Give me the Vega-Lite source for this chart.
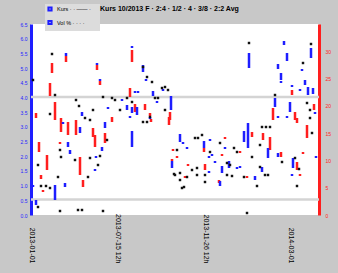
{
  "$schema": "https://vega.github.io/schema/vega-lite/v6.json",
  "autosize": "none",
  "padding": {"left": 31, "top": 24, "right": 19, "bottom": 58},
  "width": 288,
  "height": 191,
  "background": "#c8c8c8",
  "config": {
    "view": {"stroke": null, "fill": "white"},
    "font": "Liberation Sans"
  },
  "title": {"text": "Kurs 10/2013   F  ·  2:4 · 1/2 · 4 · 3/8 · 2:2   Avg", "anchor": "start", "dx": 80, "offset": -8, "fontSize": 7, "fontWeight": "bold", "color": "black"},
  "datasets": {
    "grid": [{"g": 118}, {"g": 15.5}],
    "blue": [
      {"t":35,"a":162,"b":159},{"t":66,"a":152,"b":150},{"t":69,"a":136,"b":134},{"t":51,"a":103,"b":99},
      {"t":32,"a":93,"b":91},{"t":49,"a":88,"b":82},{"t":37,"a":73,"b":68},{"t":39,"a":65,"b":61},
      {"t":65,"a":59,"b":57},{"t":64,"a":46,"b":44},{"t":34,"a":32,"b":28},{"t":24,"a":30,"b":15},
      {"t":2,"a":30,"b":28},{"t":5,"a":15,"b":10},{"t":101,"a":169,"b":167},{"t":112,"a":150,"b":143},
      {"t":115,"a":136,"b":134},{"t":122,"a":124,"b":119},{"t":132,"a":126,"b":124},{"t":104,"a":124,"b":122},
      {"t":107,"a":124,"b":122},{"t":91,"a":116,"b":114},{"t":126,"a":114,"b":112},{"t":140,"a":119,"b":105},
      {"t":77,"a":108,"b":106},{"t":96,"a":110,"b":105},{"t":101,"a":108,"b":102},{"t":106,"a":108,"b":100},
      {"t":74,"a":93,"b":87},{"t":71,"a":68,"b":64},{"t":101,"a":84,"b":68},{"t":99,"a":99,"b":97},
      {"t":119,"a":98,"b":96},{"t":141,"a":54,"b":47},{"t":149,"a":81,"b":73},{"t":152,"a":73,"b":71},
      {"t":173,"a":74,"b":67},{"t":179,"a":76,"b":74},{"t":194,"a":68,"b":66},{"t":213,"a":84,"b":73},
      {"t":156,"a":68,"b":66},{"t":178,"a":44,"b":42},{"t":178,"a":59,"b":57},{"t":181,"a":61,"b":59},
      {"t":184,"a":54,"b":52},{"t":191,"a":49,"b":42},{"t":189,"a":34,"b":29},{"t":198,"a":54,"b":47},
      {"t":206,"a":48,"b":46},{"t":209,"a":49,"b":47},{"t":218,"a":162,"b":147},{"t":253,"a":174,"b":170},
      {"t":280,"a":167,"b":157},{"t":256,"a":162,"b":154},{"t":247,"a":151,"b":146},{"t":271,"a":146,"b":144},
      {"t":250,"a":142,"b":135},{"t":250,"a":134,"b":132},{"t":274,"a":135,"b":130},{"t":261,"a":130,"b":128},
      {"t":269,"a":126,"b":124},{"t":277,"a":128,"b":120},{"t":282,"a":127,"b":121},{"t":244,"a":117,"b":108},
      {"t":259,"a":113,"b":103},{"t":256,"a":99,"b":97},{"t":284,"a":103,"b":101},{"t":247,"a":99,"b":97},
      {"t":217,"a":92,"b":67},{"t":237,"a":67,"b":57},{"t":247,"a":62,"b":58},{"t":262,"a":57,"b":47},
      {"t":261,"a":41,"b":39},{"t":231,"a":48,"b":43},{"t":224,"a":39,"b":35},{"t":285,"a":59,"b":57}
    ],
    "red": [
      {"t":21,"a":152,"b":142},{"t":35,"a":159,"b":153},{"t":66,"a":150,"b":145},{"t":69,"a":134,"b":130},
      {"t":19,"a":132,"b":119},{"t":24,"a":113,"b":95},{"t":5,"a":102,"b":97},{"t":8,"a":73,"b":63},
      {"t":16,"a":60,"b":45},{"t":10,"a":40,"b":36},{"t":12,"a":25,"b":23},{"t":30,"a":97,"b":83},
      {"t":37,"a":93,"b":80},{"t":45,"a":95,"b":80},{"t":64,"a":80,"b":68},{"t":49,"a":58,"b":40},
      {"t":52,"a":35,"b":28},{"t":29,"a":73,"b":71},{"t":101,"a":165,"b":153},{"t":99,"a":127,"b":118},
      {"t":139,"a":103,"b":95},{"t":119,"a":102,"b":99},{"t":81,"a":98,"b":93},{"t":74,"a":82,"b":72},
      {"t":120,"a":96,"b":93},{"t":138,"a":98,"b":90},{"t":142,"a":66,"b":64},{"t":141,"a":56,"b":54},
      {"t":104,"a":111,"b":103},{"t":114,"a":111,"b":105},{"t":62,"a":87,"b":78},{"t":173,"a":67,"b":63},
      {"t":194,"a":78,"b":76},{"t":209,"a":64,"b":62},{"t":146,"a":59,"b":57},{"t":154,"a":39,"b":37},
      {"t":157,"a":51,"b":49},{"t":174,"a":51,"b":45},{"t":191,"a":61,"b":59},{"t":261,"a":125,"b":120},
      {"t":283,"a":111,"b":105},{"t":242,"a":107,"b":95},{"t":264,"a":103,"b":95},{"t":232,"a":82,"b":75},
      {"t":239,"a":78,"b":65},{"t":276,"a":90,"b":77},{"t":266,"a":97,"b":92},{"t":250,"a":63,"b":58},
      {"t":266,"a":53,"b":45},{"t":269,"a":41,"b":39},{"t":216,"a":39,"b":37},{"t":272,"a":63,"b":61},
      {"t":221,"a":83,"b":78},{"t":188,"a":35,"b":32}
    ],
    "black": [
      {"t":21,"v":161},{"t":2,"v":135},{"t":24,"v":120},{"t":45,"v":115},{"t":48,"v":109},{"t":19,"v":101},
      {"t":54,"v":97},{"t":59,"v":95},{"t":30,"v":58},{"t":27,"v":38},{"t":59,"v":57},{"t":67,"v":50},
      {"t":7,"v":50},{"t":10,"v":29},{"t":15,"v":29},{"t":19,"v":27},{"t":7,"v":8},{"t":29,"v":4},
      {"t":47,"v":5},{"t":51,"v":5},{"t":72,"v":4},{"t":29,"v":65},{"t":44,"v":55},{"t":57,"v":38},
      {"t":62,"v":105},{"t":72,"v":118},{"t":81,"v":117},{"t":84,"v":115},{"t":96,"v":117},{"t":127,"v":117},
      {"t":134,"v":105},{"t":89,"v":105},{"t":112,"v":148},{"t":116,"v":138},{"t":121,"v":133},{"t":131,"v":127},
      {"t":134,"v":128},{"t":137,"v":125},{"t":76,"v":75},{"t":69,"v":59},{"t":112,"v":93},{"t":116,"v":93},
      {"t":119,"v":98},{"t":143,"v":41},{"t":124,"v":117},{"t":101,"v":113},{"t":164,"v":77},{"t":167,"v":77},
      {"t":171,"v":80},{"t":189,"v":72},{"t":203,"v":67},{"t":206,"v":63},{"t":146,"v":65},{"t":144,"v":40},
      {"t":149,"v":42},{"t":149,"v":35},{"t":161,"v":45},{"t":166,"v":47},{"t":166,"v":40},{"t":174,"v":40},
      {"t":174,"v":33},{"t":179,"v":63},{"t":196,"v":52},{"t":199,"v":50},{"t":196,"v":40},{"t":201,"v":39},
      {"t":213,"v":38},{"t":153,"v":28},{"t":156,"v":38},{"t":151,"v":27},{"t":216,"v":2},{"t":218,"v":172},
      {"t":280,"v":171},{"t":272,"v":152},{"t":244,"v":120},{"t":276,"v":112},{"t":279,"v":105},{"t":279,"v":97},
      {"t":281,"v":82},{"t":231,"v":88},{"t":235,"v":88},{"t":239,"v":88},{"t":229,"v":70},{"t":221,"v":58},
      {"t":251,"v":53},{"t":264,"v":57},{"t":268,"v":46},{"t":266,"v":29},{"t":229,"v":48},{"t":237,"v":40},
      {"t":226,"v":29},{"t":234,"v":40}
    ]
  },
  "resolve": {"scale": {"y": "independent"}, "axis": {"y": "independent"}},
  "layer": [
    {
      "data": {"name": "grid"},
      "mark": {"type": "rule", "color": "#d4d4d4", "strokeWidth": 2.5},
      "encoding": {
        "y": {"field": "g", "type": "quantitative", "scale": {"domain": [0, 191], "nice": false, "zero": false}, "axis": null}
      }
    },
    {
      "data": {"name": "red"},
      "mark": {"type": "rule", "color": "#ff1e1e", "strokeWidth": 2.5},
      "encoding": {
        "x": {"field": "t", "type": "quantitative", "scale": {"domain": [0, 288], "nice": false, "zero": false},
          "axis": {"title": null, "grid": false, "ticks": false, "domain": false,
            "values": [0, 86, 174, 259],
            "labelExpr": "datum.value == 0 ? '2013-01-01' : datum.value == 86 ? '2013-07-15 12h' : datum.value == 174 ? '2013-11-26 12h' : '2014-03-01'",
            "labelAngle": 90, "labelAlign": "right", "labelBaseline": "middle", "labelPadding": 48,
            "labelFontSize": 7, "labelColor": "black", "labelFlush": false, "labelOverlap": false}},
        "y": {"field": "a", "type": "quantitative", "scale": {"domain": [0, 191], "nice": false, "zero": false},
          "axis": {"orient": "right", "title": null, "grid": false, "ticks": false, "domainColor": "#ff1e1e", "domainWidth": 3,
            "values": [0, 27.29, 54.57, 81.86, 109.14, 136.43, 163.71],
            "labelExpr": "format(datum.value / 27.29 * 5, '.0f')",
            "labelColor": "#ff1e1e", "labelFontSize": 5, "labelPadding": 6}},
        "y2": {"field": "b"}
      }
    },
    {
      "data": {"name": "blue"},
      "mark": {"type": "rule", "strokeWidth": 2.5},
      "encoding": {
        "x": {"field": "t", "type": "quantitative", "scale": {"domain": [0, 288], "nice": false, "zero": false},
          "axis": {"title": null, "grid": false, "ticks": false, "domain": false,
            "values": [0, 86, 174, 259],
            "labelExpr": "datum.value == 0 ? '2013-01-01' : datum.value == 86 ? '2013-07-15 12h' : datum.value == 174 ? '2013-11-26 12h' : '2014-03-01'",
            "labelAngle": 90, "labelAlign": "right", "labelBaseline": "middle", "labelPadding": 48,
            "labelFontSize": 7, "labelColor": "black", "labelFlush": false, "labelOverlap": false}},
        "y": {"field": "a", "type": "quantitative", "scale": {"domain": [0, 191], "nice": false, "zero": false},
          "axis": {"orient": "left", "title": null, "grid": false, "ticks": false, "domainColor": "#1e1eff", "domainWidth": 3,
            "values": [0, 14.69, 29.38, 44.08, 58.77, 73.46, 88.15, 102.85, 117.54, 132.23, 146.92, 161.62, 176.31, 191],
            "labelExpr": "format(datum.value / 14.69 * 0.5, '.1f')",
            "labelColor": "#1e1eff", "labelFontSize": 5, "labelPadding": 4}},
        "y2": {"field": "b"},
        "color": {"datum": "Max", "type": "nominal",
          "scale": {"domain": ["Max", "Min"], "range": ["#1e1eff", "#1e1eff"]},
          "legend": {"orient": "none", "legendX": 14, "legendY": -20, "title": null, "values": ["Max", "Min"],
            "labelExpr": "datum.label == 'Max' ? 'Kurs · ·   ——   ·' : 'Vol %   · ·   · ·'",
            "fillColor": "#dcdcdc", "padding": 2, "symbolType": "square", "symbolSize": 10, "symbolStrokeWidth": 2,
            "labelFontSize": 5.5, "rowPadding": 1.5, "labelColor": "black"}}
      }
    },
    {
      "data": {"name": "black"},
      "mark": {"type": "point", "shape": "square", "filled": true, "color": "#111111", "size": 6, "opacity": 1},
      "encoding": {
        "x": {"field": "t", "type": "quantitative", "scale": {"domain": [0, 288], "nice": false, "zero": false},
          "axis": {"title": null, "grid": false, "ticks": false, "domain": false,
            "values": [0, 86, 174, 259],
            "labelExpr": "datum.value == 0 ? '2013-01-01' : datum.value == 86 ? '2013-07-15 12h' : datum.value == 174 ? '2013-11-26 12h' : '2014-03-01'",
            "labelAngle": 90, "labelAlign": "right", "labelBaseline": "middle", "labelPadding": 48,
            "labelFontSize": 7, "labelColor": "black", "labelFlush": false, "labelOverlap": false}},
        "y": {"field": "v", "type": "quantitative", "scale": {"domain": [0, 191], "nice": false, "zero": false}, "axis": null}
      }
    }
  ]
}
